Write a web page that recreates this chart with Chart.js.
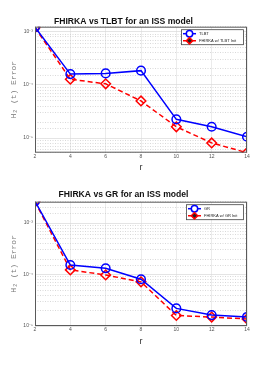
<!DOCTYPE html>
<html>
<head>
<meta charset="utf-8">
<title>FHIRKA comparison</title>
<script src="https://cdn.jsdelivr.net/npm/chart.js@4.4.1/dist/chart.umd.min.js"></script>
<style type="text/css">
	body { margin: 0; background: #fff; }
	.box { position: absolute; left: 0; width: 272px; }
</style>
</head>
<body>

	<div class="box" style="top: 0px; height: 183px;"><canvas id="chartTlbt"></canvas></div>
	<div class="box" style="top: 180px; height: 187px;"><canvas id="chartGr"></canvas></div>

	<script type="text/javascript">

	// values
	var orders = [2, 4, 6, 8, 10, 12, 14];
	var tlbtError = [1.22e-3, 1.6e-4, 1.65e-4, 1.86e-4, 2.25e-5, 1.63e-5, 1.06e-5];
	var fhirkaTlbtError = [1.2e-3, 1.28e-4, 1.05e-4, 5.0e-5, 1.63e-5, 8.1e-6, 5.3e-6];
	var grError = [2.65e-3, 1.53e-4, 1.32e-4, 8.1e-5, 2.2e-5, 1.63e-5, 1.5e-5];
	var fhirkaGrError = [2.6e-3, 1.23e-4, 9.8e-5, 7.2e-5, 1.6e-5, 1.49e-5, 1.37e-5];
	var yTickLabels = { "-5": "10\u207B\u2075", "-4": "10\u207B\u2074", "-3": "10\u207B\u00B3" };

	function points(values) {
		var out = [];
		for (var i = 0; i < orders.length; i++) {
			out.push({ x: orders[i], y: values[i] });
		}
		return out;
	}

	function isDecade(v) {
		var e = Math.log10(v);
		return Math.abs(e - Math.round(e)) < 1e-6;
	}

	// box around plot area + legend in the top right corner, matlab style
	var frameAndLegend = {
		id: 'frameAndLegend',
		afterDatasetsDraw: function(chart, args, opts) {
			var ctx = chart.ctx;
			var a = chart.chartArea;
			ctx.save();
			ctx.strokeStyle = '#5a5a5a';
			ctx.lineWidth = 1;
			ctx.strokeRect(a.left + 0.5, a.top + 0.5, a.right - a.left - 1, a.bottom - a.top - 1);

			var w = opts.width, h = 15;
			var x0 = a.right - 4 - w, y0 = a.top + 2.5;
			ctx.fillStyle = '#fff';
			ctx.fillRect(x0, y0, w, h);
			ctx.strokeStyle = '#444';
			ctx.lineWidth = 0.8;
			ctx.strokeRect(x0 + 0.5, y0 + 0.5, w, h);

			chart.data.datasets.forEach(function(ds, i) {
				var yy = y0 + 4.5 + i * 7;
				ctx.strokeStyle = ds.borderColor;
				ctx.lineWidth = 1.5;
				ctx.setLineDash(ds.borderDash || []);
				ctx.beginPath();
				ctx.moveTo(x0 + 2, yy);
				ctx.lineTo(x0 + 15, yy);
				ctx.stroke();
				ctx.setLineDash([]);
				Chart.helpers.drawPoint(ctx, {
					pointStyle: ds.pointStyle, radius: 3.2, rotation: 0,
					borderWidth: 1.5
				}, x0 + 8.5, yy);
				ctx.fillStyle = '#222';
				ctx.font = '4px "Liberation Sans", Arial, sans-serif';
				ctx.textBaseline = 'middle';
				ctx.fillText(ds.label, x0 + 18, yy + 0.3);
			});
			ctx.restore();
		}
	};

	function makeChart(canvasId, titleText, names, seriesA, seriesB, yMin, yMax, legendWidth, lay) {
		var ctx = document.getElementById(canvasId).getContext('2d');
		return new Chart(ctx, {
			type: 'line',
			data: {
				datasets: [
					{
						label: names[0],
						data: points(seriesA),
						borderColor: '#0000ff',
						backgroundColor: 'rgba(0,0,0,0)',
						borderWidth: 1.5,
						pointStyle: 'circle',
						pointRadius: 4.3,
						pointBorderWidth: 1.5,
						pointBackgroundColor: 'rgba(0,0,0,0)',
						tension: 0
					},
					{
						label: names[1],
						data: points(seriesB),
						borderColor: '#ff0000',
						backgroundColor: 'rgba(0,0,0,0)',
						borderWidth: 1.5,
						borderDash: [5, 3],
						pointStyle: 'rectRot',
						pointRadius: 4.8,
						pointBorderWidth: 1.5,
						pointBackgroundColor: 'rgba(0,0,0,0)',
						tension: 0
					}
				]
			},
			options: {
				responsive: true,
				maintainAspectRatio: false,
				animation: false,
				layout: { padding: { left: 0, right: 25, top: 0, bottom: 0 } },
				plugins: {
					legend: { display: false },
					tooltip: { enabled: false },
					title: {
						display: true,
						text: titleText,
						color: '#111',
						font: { family: '"Liberation Sans", Arial, sans-serif', size: 8.6, weight: 'bold', lineHeight: 1 },
						padding: { top: lay.titleTop, bottom: lay.titleBottom }
					},
					frameAndLegend: { width: legendWidth }
				},
				scales: {
					x: {
						type: 'linear',
						min: 2,
						max: 14,
						ticks: {
							stepSize: 2,
							color: '#555',
							padding: 1,
							font: { family: '"Liberation Sans", Arial, sans-serif', size: 5 }
						},
						grid: { color: '#e6e6e6', lineWidth: 0.8, drawTicks: false },
						border: { display: false },
						title: {
							display: true,
							text: 'r',
							color: '#333',
							padding: { top: 0, bottom: lay.rBottom },
							font: { family: '"Liberation Sans", Arial, sans-serif', size: 9, lineHeight: 1.2 }
						},
						afterFit: function(scale) { scale.height = lay.xHeight; }
					},
					y: {
						type: 'logarithmic',
						min: yMin,
						max: yMax,
						ticks: {
							autoSkip: false,
							color: '#555',
							padding: 2,
							font: { family: '"Liberation Sans", Arial, sans-serif', size: 5 },
							callback: function(v) {
								if (!isDecade(v)) return '';
								return yTickLabels[String(Math.round(Math.log10(v)))] || '';
							}
						},
						grid: {
							drawTicks: false,
							lineWidth: 0.7,
							color: function(c) {
								if (c.tick && isDecade(c.tick.value)) return '#d8d8d8';
								return '#c8c8c8';
							}
						},
						border: {
							display: false,
							dash: function(c) {
								if (c.tick && !isDecade(c.tick.value)) return [1, 1.5];
								return [];
							}
						},
						title: {
							display: true,
							text: 'H\u2082 (t) Error',
							color: '#777',
							padding: { top: 9.5, bottom: 0 },
							font: { family: '"Liberation Mono", "DejaVu Sans Mono", monospace', size: 8, lineHeight: 1.2 }
						},
						afterFit: function(scale) { scale.width = 35; }
					}
				}
			},
			plugins: [frameAndLegend]
		});
	}

	makeChart('chartTlbt', 'FHIRKA vs TLBT for an ISS model', ['TLBT', 'FHIRKA w/ TLBT Init'],
		tlbtError, fhirkaTlbtError, 5.3e-6, 1.25e-3, 62,
		{ titleTop: 17.7, titleBottom: 0.4, xHeight: 30.3, rBottom: 9.6 });
	makeChart('chartGr', 'FHIRKA vs GR for an ISS model', ['GR', 'FHIRKA w/ GR Init'],
		grError, fhirkaGrError, 1e-5, 2.6e-3, 57,
		{ titleTop: 10.7, titleBottom: 2.4, xHeight: 41, rBottom: 20 });

	</script>

</body>
</html>
